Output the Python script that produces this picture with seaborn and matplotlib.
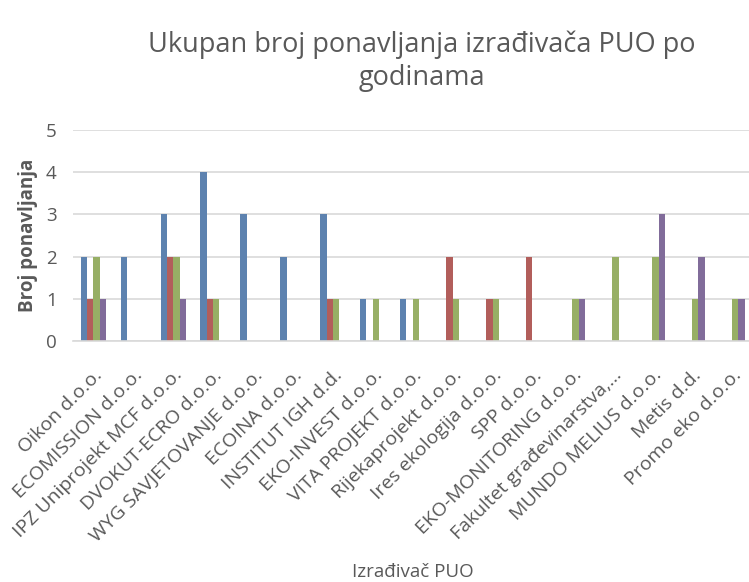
import pandas as pd
import seaborn as sns
import matplotlib.pyplot as plt

categories = [
    "Oikon d.o.o.", "ECOMISSION d.o.o.", "IPZ Uniprojekt MCF d.o.o.",
    "DVOKUT-ECRO d.o.o.", "WYG SAVJETOVANJE d.o.o.", "ECOINA d.o.o.",
    "INSTITUT IGH d.d.", "EKO-INVEST d.o.o.", "VITA PROJEKT d.o.o.",
    "Rijekaprojekt d.o.o.", "Ires ekologija d.o.o.", "SPP d.o.o.",
    "EKO-MONITORING d.o.o.", "Fakultet građevinarstva,...", "MUNDO MELIUS d.o.o.",
    "Metis d.d.", "Promo eko d.o.o.",
]
series_names = ["2015", "2016", "2017", "2018"]
s2015 = [2, 2, 3, 4, 3, 2, 3, 1, 1, 0, 0, 0, 0, 0, 0, 0, 0]
s2016 = [1, 0, 2, 1, 0, 0, 1, 0, 0, 2, 1, 2, 0, 0, 0, 0, 0]
s2017 = [2, 0, 2, 1, 0, 0, 1, 1, 1, 1, 1, 0, 1, 2, 2, 1, 1]
s2018 = [1, 0, 1, 0, 0, 0, 0, 0, 0, 0, 0, 0, 1, 0, 3, 2, 1]
colors = ["#4F81BD", "#C0504D", "#9BBB59", "#8064A2"]

rows = []
for name, vals in zip(series_names, [s2015, s2016, s2017, s2018]):
    for cat, v in zip(categories, vals):
        rows.append({"Izrađivač": cat, "Godina": name, "Broj": v})
df = pd.DataFrame(rows)

sns.set_style("white")
plt.rcParams["font.family"] = ["Open Sans", "DejaVu Sans"]
grey = "#595959"

fig = plt.figure(figsize=(7.49, 5.82), dpi=100)
ax = fig.add_axes([0.098, 0.414, 0.906, 0.3625])
sns.barplot(data=df, x="Izrađivač", y="Broj", hue="Godina", order=categories,
            palette=colors, width=0.633, linewidth=0, ax=ax, legend=False)

ax.set_ylim(0, 5)
ax.set_xlim(-0.5, len(categories) - 0.5)
ax.set_yticks(range(6))
ax.yaxis.grid(True, color="#D9D9D9", linewidth=1.2)
ax.set_axisbelow(True)
for side in ["top", "right", "left"]:
    ax.spines[side].set_visible(False)
ax.spines["bottom"].set_color("#D9D9D9")
ax.spines["bottom"].set_linewidth(1.2)
ax.tick_params(axis="both", length=0, colors=grey, labelsize=13.5)
ax.tick_params(axis="y", pad=12)
ax.tick_params(axis="x", pad=18, labelsize=14)
plt.setp(ax.get_xticklabels(), rotation=45, ha="right", rotation_mode="anchor")

ax.set_xlabel("Izrađivač PUO", color=grey, fontsize=13.5)
ax.set_ylabel("Broj ponavljanja", color=grey, fontsize=13.5, fontweight="bold", labelpad=6)
ax.xaxis.set_label_coords(0.5, -1.05)
fig.text(0.563, 0.895, "Ukupan broj ponavljanja izrađivača PUO po\ngodinama",
         ha="center", va="center", color=grey, fontsize=19.5, linespacing=1.25)

fig.savefig("out.png", dpi=100)
